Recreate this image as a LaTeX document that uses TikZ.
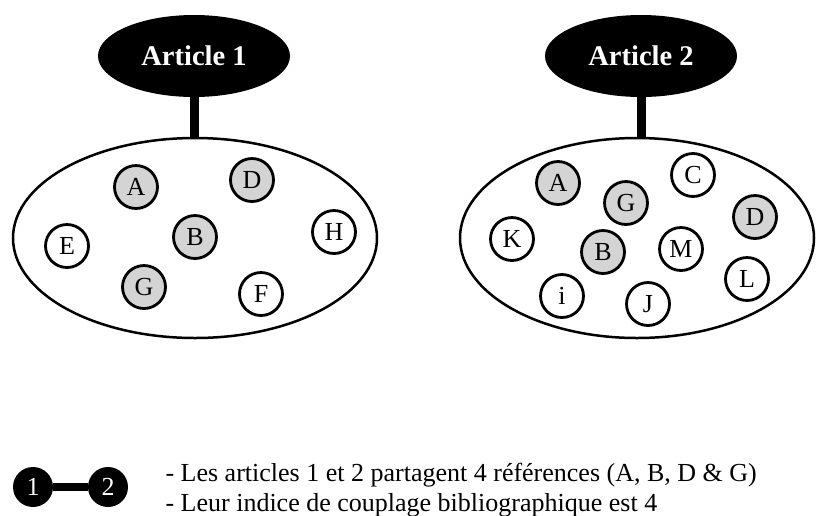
\documentclass[tikz,border=0pt]{standalone}
\usepackage{fontspec}
\setmainfont{Liberation Serif}
\usetikzlibrary{positioning, shapes.geometric}

\begin{document}
\begin{tikzpicture}[x=1pt, y=-1pt,
    article/.style={ellipse, fill=black, text=white, font=\fontsize{28.5}{30}\selectfont\bfseries,
        minimum width=192pt, minimum height=82pt, inner sep=0pt},
    refset/.style={ellipse, draw=black, line width=2.5pt, minimum width=364pt, minimum height=200pt},
    shared/.style={circle, draw=black, line width=2.8pt, fill=black!17, minimum size=43pt, inner sep=0pt,
        font=\fontsize{26}{28}\selectfont},
    single/.style={shared, fill=white},
    stem/.style={line width=9pt},
    dot/.style={circle, fill=black, text=white, minimum size=40pt, inner sep=0pt,
        font=\fontsize{26}{28}\selectfont},
    legend/.style={anchor=base west, font=\fontsize{26}{28}\selectfont}]
    \useasboundingbox (0,0) rectangle (816,515);

    % Article 1 and its references
    \node[refset] (set1) at (195,238) {};
    \node[article] (art1) at (194,56) {Article 1};
    \draw[stem] (art1.south) -- (art1.south |- set1.north);
    \node[shared] (a1) at (136,187) {A};
    \node[shared] (d1) at (252,180) {D};
    \node[single] (e1) at (67,246) {E};
    \node[shared] (b1) at (195,237) {B};
    \node[single] (h1) at (334,232) {H};
    \node[shared] (g1) at (144,287) {G};
    \node[single] (f1) at (261,294) {F};

    % Article 2 and its references
    \node[refset, minimum width=354pt] (set2) at (637,238) {};
    \node[article] (art2) at (641,56) {Article 2};
    \draw[stem] (art2.south) -- (art2.south |- set2.north);
    \node[shared] (a2) at (558,183) {A};
    \node[single] (c2) at (693,175) {C};
    \node[shared] (g2) at (626,203) {G};
    \node[shared] (d2) at (755,217) {D};
    \node[single] (k2) at (512,239) {K};
    \node[shared] (b2) at (603,252) {B};
    \node[single] (m2) at (681,249) {M};
    \node[single] (l2) at (747,279) {L};
    \node[single] (i2) at (562,296) {i};
    \node[single] (j2) at (648,304) {J};

    % Coupling
    \node[dot] (n1) at (33,487) {1};
    \node[dot] (n2) at (108,487) {2};
    \draw[line width=8pt] (n1) -- (n2);
    \node[legend] (line1) at (162,481) {- Les articles 1 et 2 partagent 4 références (A, B, D \& G)};
    \node[legend] (line2) at (162,511) {- Leur indice de couplage bibliographique est 4};
\end{tikzpicture}
\end{document}
